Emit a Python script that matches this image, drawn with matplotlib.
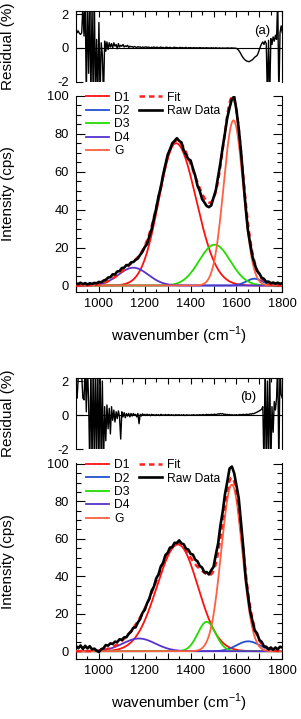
import matplotlib
matplotlib.use('Agg')
import matplotlib.pyplot as plt
from matplotlib.ticker import MultipleLocator, FuncFormatter
import numpy as np

plt.rcParams['font.family'] = ['Liberation Sans', 'DejaVu Sans']
plt.rcParams['mathtext.fontset'] = 'custom'
plt.rcParams['mathtext.rm'] = 'Liberation Sans'
plt.rcParams['xtick.direction'] = 'in'
plt.rcParams['ytick.direction'] = 'in'

# ── data ────────────────────────────────────────────────────────────────────
peak_names = ["D1", "D2", "D3", "D4", "G"]
peak_colors = ["#ff1010", "#2050d0", "#22dd00", "#5533cc", "#ff6040"]

# fitted bands: centre (cm-1), height (cps), left / right width (cm-1)
centers_a = [1336, 1678, 1505, 1150, 1587]
heights_a = [75.0, 3.6, 21.5, 9.4, 87.0]
sig_left_a = [74, 35, 68, 65, 43]
sig_right_a = [88, 35, 68, 65, 42]

centers_b = [1345, 1651, 1470, 1175, 1580]
heights_b = [57.0, 5.3, 15.7, 6.8, 89.0]
sig_left_b = [92, 50, 39, 71, 46]
sig_right_b = [87, 50, 39, 71, 45]

# raw spectra, 900..1800 step 10
raw_a = [1.2, 0.8, 1.5, 0.7, 1.3, 0.6, 1.2, 0.9, 1.4, 1.2,
         1.9, 1.7, 2.6, 3.0, 4.2, 4.4, 5.9, 5.8, 7.4, 7.6,
         9.2, 9.4, 10.8, 10.7, 12.2, 12.4, 13.5, 14.3, 16.2, 17.8,
         20.3, 21.8, 25.9, 29.6, 35.4, 40.6, 46.9, 51.8, 58.3, 63.6,
         68.9, 71.7, 74.9, 76.2, 77.6, 76.2, 75.4, 71.2, 68.9, 66.6,
         65.9, 61.7, 57.9, 52.6, 49.8, 45.6, 43.8, 41.9, 41.3, 42.2,
         46.3, 50.2, 57.4, 64.6, 72.9, 80.4, 88.4, 93.6, 98.2, 99.6,
         92.4, 82.6, 70.4, 55.6, 41.4, 29.1, 21.9, 15.2, 11.1, 7.7,
         6.3, 4.1, 3.5, 1.9, 2.1, 1.2, 1.6, 1.0, 1.5, 0.9, 1.3]

raw_b = [2.8, 1.6, 3.1, 1.2, 2.9, 1.5, 2.7, 1.0, 1.4, 0.3,
         -0.4, 1.1, 1.6, 3.3, 3.0, 4.2, 3.9, 5.1, 4.9, 6.4,
         6.1, 7.4, 7.5, 9.3, 10.4, 12.5, 12.8, 15.4, 17.2, 20.5,
         22.1, 25.6, 28.0, 32.3, 34.5, 38.9, 41.0, 45.3, 47.2, 51.3,
         52.6, 55.3, 55.6, 57.9, 57.8, 59.2, 57.6, 57.1, 54.7, 54.3,
         52.0, 51.6, 48.9, 48.0, 45.5, 44.7, 42.1, 42.3, 41.0, 43.3,
         45.0, 51.6, 57.5, 67.1, 74.5, 83.9, 90.5, 97.6, 98.6, 95.1,
         88.5, 81.6, 68.5, 55.1, 39.5, 30.0, 21.3, 16.0, 11.0, 9.5,
         6.0, 5.0, 2.6, 2.4, 1.0, 2.0, 0.8, 2.0, 1.0, 2.4, 2.0]

# residuals (%), 900..1800 step 5
res_a = [1.2, 0.9, 1.0, 0.85, 0.8, 0.9, 2.5, 0.7, 3.0, -3.0,
         3.0, -1.5, 3.0, -3.0, 2.5, -3.0, 3.0, -3.0, 0.5, -3.0,
         1.5, -3.0, 0.3, -0.4, -3.0, 0.4, -0.2, 0.35, -0.1, 0.3,
         0.05, 0.25, 0.0, 0.3, 0.1, 0.2, -0.05, 0.25, 0.05, 0.15,
         0.1, 0.2, 0.05, 0.12, 0.08, 0.15, 0.02, 0.1, 0.06, 0.08,
         0.03, 0.08, 0.05, 0.02, 0.07, 0.04, 0.06, 0.01, 0.05, 0.03,
         0.04, 0.06, 0.02, 0.05, 0.03, 0.0, 0.04, 0.02, 0.05, 0.01,
         0.03, 0.04, 0.0, 0.02, 0.05, 0.01, 0.03, -0.01, 0.02, 0.04,
         0.02, 0.0, 0.03, 0.01, -0.02, 0.02, 0.04, 0.0, 0.02, -0.01,
         0.01, 0.03, 0.0, 0.02, -0.01, 0.01, 0.03, -0.02, 0.01, 0.0,
         0.02, -0.01, 0.0, 0.02, -0.02, 0.01, 0.0, -0.01, 0.02, 0.0,
         -0.01, 0.01, -0.02, 0.0, 0.01, -0.01, 0.0, -0.02, 0.01, -0.01,
         0.0, -0.02, 0.01, -0.01, -0.02, 0.0, -0.01, -0.03, 0.0, -0.02,
         -0.01, -0.02, 0.0, -0.01, -0.02, -0.01, 0.0, -0.02, -0.01, -0.02,
         -0.03, -0.08, -0.15, -0.25, -0.38, -0.5, -0.6, -0.68, -0.74, -0.78,
         -0.8, -0.82, -0.78, -0.74, -0.7, -0.62, -0.55, -0.5, -0.45, -0.3,
         -0.1, 0.1, 0.25, 0.35, 0.2, 0.4, 0.25, -3.0, 0.45, -3.0,
         0.55, 0.2, 0.65, 0.4, 0.75, 0.5, 3.0, -3.0, 0.9, 1.3,
         0.9]

res_b = [1.1, 1.0, 2.3, 2.3, 2.3, 2.3, 1.0, 0.9, 3.0, 0.2,
         3.0, 0.8, -3.0, 3.0, -3.0, 3.0, -3.0, 3.0, -3.0, 3.0,
         -3.0, 3.0, -3.0, 2.0, -3.0, 0.5, -1.5, 0.6, -0.8, 0.4,
         -1.1, 0.5, -0.3, 0.3, -0.4, 0.2, -0.2, 0.25, -0.1, -1.4,
         0.2, -0.1, 0.15, -0.15, 0.1, -0.05, 0.1, -0.1, 0.1, -0.05,
         0.1, 0.0, 0.05, -0.1, 0.1, -0.5, 0.05, -0.05, 0.08, 0.0,
         0.05, -0.02, 0.06, 0.0, 0.04, -0.03, 0.05, 0.01, 0.03, -0.02,
         0.04, 0.0, 0.03, -0.02, 0.05, 0.01, 0.02, -0.01, 0.04, 0.0,
         0.02, 0.04, -0.01, 0.03, 0.0, 0.02, -0.02, 0.03, 0.01, 0.0,
         0.03, -0.01, 0.02, 0.0, 0.03, -0.02, 0.01, 0.02, 0.0, 0.01,
         -0.01, 0.02, 0.0, 0.03, -0.01, 0.01, 0.02, 0.0, 0.03, 0.01,
         0.02, 0.04, 0.0, 0.03, 0.05, 0.02, 0.04, 0.01, 0.05, 0.03,
         0.04, 0.06, 0.03, 0.05, 0.08, 0.06, 0.1, 0.07, 0.09, 0.05,
         0.06, 0.03, 0.05, 0.02, 0.04, 0.01, 0.03, 0.0, 0.02, 0.01,
         0.03, 0.0, 0.02, 0.04, 0.01, 0.03, 0.05, 0.02, 0.04, 0.06,
         0.03, 0.05, 0.08, 0.06, 0.1, 0.08, 0.12, 0.15, 0.18, 0.22,
         0.25, 0.3, 0.35, 0.5, -3.0, 3.0, -3.0, 2.0, -3.0, 3.0,
         -3.0, 0.5, -1.0, 0.8, 0.3, 1.0, 3.0, -3.0, 3.0, 1.2,
         1.0]

x_raw = np.arange(900, 1801, 10)
x_res = np.arange(900, 1801, 5)
x_fit = np.arange(900, 1801, 1.0)


def band(x, c, h, sl, sr):
    s = np.where(x < c, sl, sr)
    return h * np.exp(-0.5 * ((x - c) / s) ** 2)


def style_res(ax, tag, tag_x, tag_y):
    ax.axhline(0, color='black', lw=0.8, zorder=1)
    ax.set_xlim(900, 1800)
    ax.set_ylim(-2.0, 2.18)
    ax.spines['bottom'].set_visible(False)
    for s in ['left', 'top', 'right']:
        ax.spines[s].set_linewidth(0.8)
    ax.xaxis.set_major_locator(MultipleLocator(100))
    ax.xaxis.set_minor_locator(MultipleLocator(50))
    ax.tick_params(axis='x', which='both', bottom=False, top=True,
                   labelbottom=False, labeltop=False)
    ax.tick_params(axis='x', which='major', length=4.5, width=0.8)
    ax.tick_params(axis='x', which='minor', length=3, width=0.8)
    ax.set_yticks([-2, 0, 2])
    ax.set_yticklabels(['-2', '0', '2'])
    ax.tick_params(axis='y', which='major', left=True, right=False,
                   length=5, width=0.8, labelsize=9.3, pad=5)
    ax.set_ylabel('Residual (%)', fontsize=11)
    ax.yaxis.set_label_coords(-0.296, 0.5)
    ax.text(tag_x, tag_y, tag, transform=ax.transAxes, fontsize=9.5,
            ha='center', va='center')


def style_int(ax, ylo, yhi):
    ax.set_xlim(900, 1800)
    ax.set_ylim(ylo, yhi)
    ax.spines['top'].set_visible(False)
    for s in ['left', 'bottom', 'right']:
        ax.spines[s].set_linewidth(0.8)
    ax.xaxis.set_major_locator(MultipleLocator(100))
    ax.xaxis.set_minor_locator(MultipleLocator(50))
    ax.xaxis.set_major_formatter(
        FuncFormatter(lambda v, p: f"{int(v)}" if int(v) % 200 == 0 else ""))
    ax.yaxis.set_major_locator(MultipleLocator(20))
    ax.yaxis.set_minor_locator(MultipleLocator(5))
    ax.tick_params(axis='x', which='both', top=False, bottom=True)
    ax.tick_params(axis='x', which='major', length=4.5, width=0.8,
                   labelsize=9.3, pad=4)
    ax.tick_params(axis='x', which='minor', length=2.5, width=0.8)
    ax.tick_params(axis='y', which='both', left=True, right=True)
    ax.tick_params(axis='y', which='major', length=6.5, width=0.8,
                   labelsize=9.3, pad=5)
    ax.tick_params(axis='y', which='minor', length=3.3, width=0.8)
    ax.set_ylabel('Intensity (cps)', fontsize=11)
    ax.yaxis.set_label_coords(-0.296, 0.5)
    ax.set_xlabel(r'wavenumber (cm$^{\mathregular{-1}}$)', fontsize=11)
    ax.xaxis.set_label_coords(0.5, -0.165)


def draw_int(ax, centers, heights, sl, sr, raw):
    total = np.zeros_like(x_fit)
    handles = []
    for name, col, c, h, a, b in zip(peak_names, peak_colors,
                                     centers, heights, sl, sr):
        y = band(x_fit, c, h, a, b)
        total += y
        ln, = ax.plot(x_fit, y, color=col, lw=1.3, label=name, zorder=2)
        handles.append(ln)
    fit_ln, = ax.plot(x_fit, total, color='#ff2020', lw=1.8,
                      ls=(0, (2.2, 1.6)), label='Fit', zorder=3)
    raw_ln, = ax.plot(x_raw, raw, color='black', lw=1.9,
                      label='Raw Data', zorder=4)
    leg1 = ax.legend(handles=handles, loc='upper left',
                     bbox_to_anchor=(0.05, 1.02), frameon=False,
                     fontsize=8.7, handlelength=1.9, handletextpad=0.4,
                     labelspacing=0.12, borderpad=0, borderaxespad=0)
    ax.add_artist(leg1)
    ax.legend(handles=[fit_ln, raw_ln], loc='upper left',
              bbox_to_anchor=(0.305, 1.02), frameon=False,
              fontsize=8.7, handlelength=1.9, handletextpad=0.4,
              labelspacing=0.12, borderpad=0, borderaxespad=0)


fig = plt.figure(figsize=(3.01, 7.19), dpi=100)
fig.patch.set_facecolor('white')

L, W = 76 / 301, 206.3 / 301
ax_ra = fig.add_axes([L, (719 - 81.7) / 719, W, 70.7 / 719])
ax_ia = fig.add_axes([L, (719 - 292) / 719, W, 196.5 / 719])
ax_rb = fig.add_axes([L, (719 - 449.3) / 719, W, 71.3 / 719])
ax_ib = fig.add_axes([L, (719 - 659.3) / 719, W, 196.3 / 719])

ax_ra.plot(x_res, res_a, color='black', lw=1.0, zorder=2)
style_res(ax_ra, '(a)', 0.904, 0.72)
ax_rb.plot(x_res, res_b, color='black', lw=1.0, zorder=2)
style_res(ax_rb, '(b)', 0.834, 0.733)

draw_int(ax_ia, centers_a, heights_a, sig_left_a, sig_right_a, raw_a)
style_int(ax_ia, -3.4, 100.1)
draw_int(ax_ib, centers_b, heights_b, sig_left_b, sig_right_b, raw_b)
style_int(ax_ib, -4.3, 100.5)

fig.savefig('out.png', dpi=100, facecolor='white')
